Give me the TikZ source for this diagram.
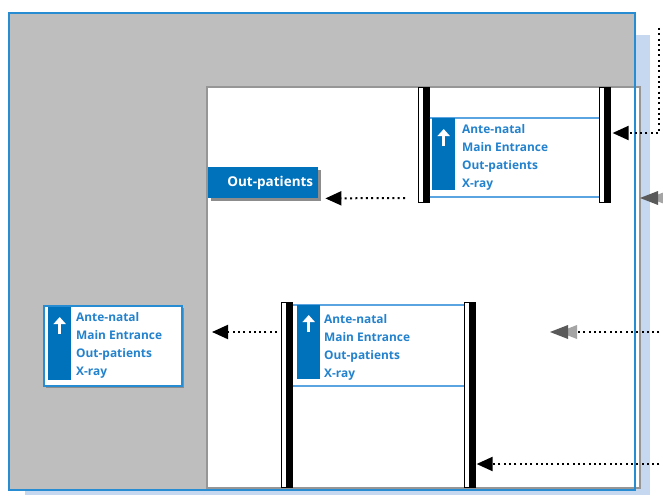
\documentclass[tikz,border=0pt]{standalone}
\usepackage{fontspec}
\setmainfont{Open Sans}
\usetikzlibrary{arrows.meta,calc,shadows}
\definecolor{wallgray}{RGB}{190,190,190}
\definecolor{edgegray}{RGB}{150,150,150}
\definecolor{frameblue}{RGB}{40,140,210}
\definecolor{shadowblue}{RGB}{197,216,239}
\definecolor{stripblue}{RGB}{0,114,188}
\definecolor{textblue}{RGB}{35,130,205}
\definecolor{boardblue}{RGB}{90,165,225}
\definecolor{headdark}{RGB}{90,90,90}
\definecolor{headlight}{RGB}{165,165,165}
\tikzset{
  dots/.style={line width=2pt, dash pattern=on 2pt off 3.3pt},
  blacktip/.style={-{Triangle[length=16pt,width=14pt]}},
  post/.style={draw=black, line width=0.6pt, fill=white, minimum width=11pt, inner sep=0pt, anchor=north west,
    path picture={\fill[black] ([xshift=-6pt]path picture bounding box.north east) rectangle (path picture bounding box.south east);}},
  strip/.style={fill=stripblue, inner sep=0pt, minimum width=23pt, anchor=north west},
  signtxt/.style={font=\fontsize{11.9}{13}\selectfont\bfseries, text=textblue, anchor=base west, inner sep=0pt},
  boardedge/.style={draw=boardblue, line width=1.3pt},
  uparrow/.style={draw=white, line width=3.4pt, -{Triangle[length=7pt,width=12pt]}},
  graysh/.style={drop shadow={shadow xshift=2.5pt, shadow yshift=-2.5pt, fill=black!45, opacity=1}},
  dblhead/.pic={
    \fill[headlight] (9,0) -- (27,-7) -- (27,7) -- cycle;
    \fill[headdark] (0,0) -- (18,-7) -- (18,7) -- cycle;
  }
}
\newcommand\signlines[3]{%
  \node[signtxt] (#3a) at (#1,#2) {Ante-natal};
  \node[signtxt] (#3b) at (#1,#2+18.3) {Main Entrance};
  \node[signtxt] (#3c) at (#1,#2+36.6) {Out-patients};
  \node[signtxt] (#3d) at (#1,#2+54.9) {X-ray};
}
\begin{document}
\begin{tikzpicture}[x=1pt,y=-1pt]
\useasboundingbox (0,0) rectangle (663,495);
% building
\fill[shadowblue] (25,35) rectangle (650,495);
\fill[wallgray] (9,13) rectangle (635,490);
\filldraw[fill=white, draw=edgegray, line width=1.5pt] (207,87) rectangle (640,488);
\draw[frameblue, line width=2pt] (9,13) rectangle (635,490);

% upper sign
\node[post, minimum height=115pt] (upL) at (418,87) {};
\node[post, minimum height=115pt] (upR) at (599,87) {};
\draw[boardedge] (upL.east |- 0,118) -- (upR.west |- 0,118);
\draw[boardedge] (upL.east |- 0,197) -- (upR.west |- 0,197);
\node[strip, minimum height=72pt] (upS) at (432,118) {};
\draw[uparrow] ($(upS.north)+(0,28)$) -- ($(upS.north)+(0,11)$);
\signlines{462}{133}{upT}

% lower sign
\node[post, minimum height=185pt] (lrL) at (281,302) {};
\node[post, minimum height=185pt] (lrR) at (464,302) {};
\draw[boardedge] (lrL.east |- 0,305) -- (lrR.west |- 0,305);
\draw[boardedge] (lrL.east |- 0,386) -- (lrR.west |- 0,386);
\node[strip, minimum height=74pt] (lrS) at (297,305) {};
\draw[uparrow] ($(lrS.north)+(0,27)$) -- ($(lrS.north)+(0,10)$);
\signlines{324}{323}{lrT}

% sign on the wall
\node[draw=frameblue, fill=white, line width=1.5pt, minimum width=138pt, minimum height=80pt,
      inner sep=0pt, anchor=north west, graysh] (lfB) at (43,305) {};
\node[strip, minimum height=73pt] (lfS) at (48,307) {};
\draw[uparrow] ($(lfS.north)+(0,27)$) -- ($(lfS.north)+(0,10)$);
\signlines{76}{321}{lfT}

% out-patients sign
\node[fill=stripblue, text width=100pt, align=right, inner xsep=5pt, inner ysep=0pt,
      minimum height=31pt, anchor=north west, font=\fontsize{13.5}{15}\selectfont\bfseries,
      text=white, graysh] (opS) at (208,167) {Out-patients};

% connectors
\coordinate (c1) at (659,28);
\coordinate (c1b) at (659,133);
\draw[dots, blacktip] (c1) -- (c1b) -- ([xshift=2pt]upR.east |- c1b);

\coordinate (c3) at (405,198);
\draw[dots, blacktip] (c3) -- ([xshift=7pt]opS.south east);

\coordinate (c4) at (277,332);
\coordinate (c4t) at (212,332);
\draw[dots, blacktip] (c4) -- (c4t);

\coordinate (c5) at (670,332);
\coordinate (c5t) at (550,332);
\draw[dots] (c5) -- ($(c5t)+(27,0)$);
\pic at (c5t) {dblhead};

\coordinate (c2t) at (640,198);
\pic at (c2t) {dblhead};

\coordinate (c6) at (670,464);
\draw[dots, blacktip] (c6) -- ([xshift=1pt]lrR.east |- c6);
\end{tikzpicture}
\end{document}
